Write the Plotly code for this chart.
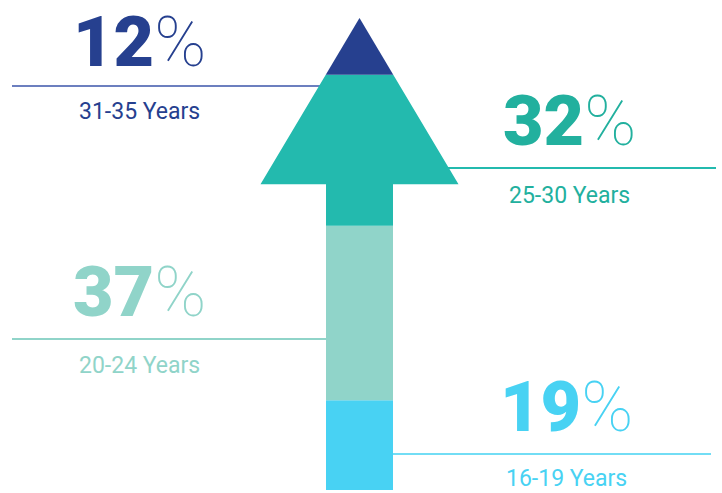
import plotly.graph_objects as go

# ---- data ----
age_groups = ["16-19 Years", "20-24 Years", "25-30 Years", "31-35 Years"]
percentages = [19, 37, 32, 12]

# ---- styles / layout constants ----
seg_colors = ["#48D2F3", "#90D4C9", "#23BAAE", "#26408F"]
text_colors = ["#48D2F3", "#90D4C9", "#22B09E", "#26408F"]
line_colors = ["#72DDF5", "#90D4C9", "#23BAAE", "#6C7FBF"]
W, H = 722, 493
CX = 359.5            # arrow centre (x axis units = px)
SHAFT_HALF = 33.5
HEAD_HALF = 99.0
HEAD_BASE = 64.8      # % level where arrow head starts
NUM_SIZE = 70
# label placement (pixels): side, text centre x, number centre y, label centre y, line y, line x0, line x1
placements = [
    ("right", 566, 407, 478, 454, CX, 711),
    ("left", 139, 292, 365, 339, 12, CX),
    ("right", 569, 121, 195, 168, CX, 716),
    ("left", 139, 42, 111, 86, 12, CX),
]

# y axis: 0% at px 490, 100% at px 18
Y0_PX, Y100_PX = 490, 18
scale = (Y0_PX - Y100_PX) / 100.0
y_min = -(H - Y0_PX) / scale
y_max = 100 + Y100_PX / scale


def half_width(y):
    if y <= HEAD_BASE:
        return SHAFT_HALF
    return HEAD_HALF * (100 - y) / (100 - HEAD_BASE)


fig = go.Figure()

cum = 0
for pct, col in zip(percentages, seg_colors):
    lo, hi = cum, cum + pct
    cum = hi
    right = [(CX + half_width(lo), lo)]
    if lo < HEAD_BASE < hi:
        right += [(CX + SHAFT_HALF, HEAD_BASE), (CX + HEAD_HALF, HEAD_BASE)]
    right.append((CX + half_width(hi), hi))
    left = [(2 * CX - x, y) for x, y in reversed(right)]
    pts = right + left + [right[0]]
    fig.add_trace(go.Scatter(
        x=[p[0] for p in pts], y=[p[1] for p in pts],
        mode="lines", fill="toself", fillcolor=col,
        line=dict(width=0, color=col), hoverinfo="skip", showlegend=False))

for i, (grp, pct) in enumerate(zip(age_groups, percentages)):
    side, tx, ny, ly, liney, lx0, lx1 = placements[i]
    fig.add_shape(type="line", xref="x", yref="paper",
                  x0=lx0, x1=lx1, y0=1 - liney / H, y1=1 - liney / H,
                  line=dict(color=line_colors[i], width=2), layer="below")
    fig.add_annotation(
        x=tx, xref="x", y=1 - ny / H, yref="paper",
        xanchor="center", yanchor="middle", showarrow=False,
        text=(f"<span style='font-weight:900'>{pct}</span>"
              f"<span style='font-weight:100'>%</span>"),
        font=dict(family="Roboto", size=NUM_SIZE, color=text_colors[i]))
    fig.add_annotation(
        x=tx, xref="x", y=1 - ly / H, yref="paper",
        xanchor="center", yanchor="middle", showarrow=False,
        text=grp, font=dict(family="Roboto", size=23, color=text_colors[i]))

fig.update_layout(
    width=W, height=H, margin=dict(l=0, r=0, t=0, b=0),
    paper_bgcolor="white", plot_bgcolor="white",
    xaxis=dict(range=[0, W], visible=False, fixedrange=True),
    yaxis=dict(range=[y_min, y_max], visible=False, fixedrange=True),
)

fig.write_html("out.html", config={"displayModeBar": False},
               post_script="document.body.style.margin='0';")
